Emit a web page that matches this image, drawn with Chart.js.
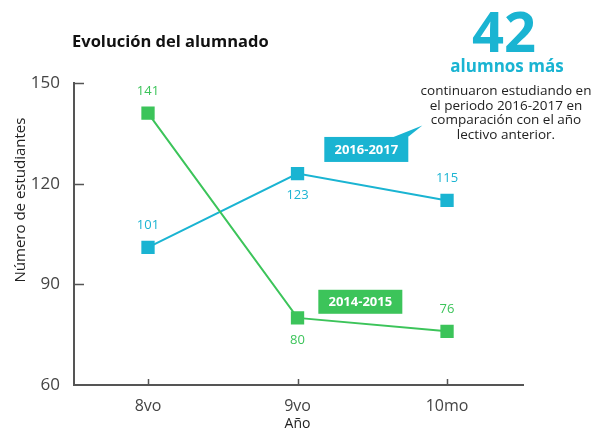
<!DOCTYPE html>
<html>
<head>
<meta charset="utf-8">
<script src="https://cdn.jsdelivr.net/npm/chart.js@4"></script>
<style>
  html, body { margin: 0; padding: 0; background: #fff; }
  #wrap { width: 607px; height: 432px; }
</style>
</head>
<body>
<div id="wrap"><canvas id="chart" width="607" height="432"></canvas></div>
<script>
// data
const grades = ['8vo', '9vo', '10mo'];
const period2014 = [141, 80, 76];
const period2016 = [101, 123, 115];
const yTicks = [60, 90, 120, 150];

const CYAN = '#1ab4d2';
const GREEN = '#3cc45a';
const AXIS = '#555';
const FONT = '"Open Sans", "DejaVu Sans", sans-serif';

const toPoints = vals => vals.map((v, i) => ({ x: i, y: v }));

// ticks, value labels, callouts and side text
const decor = {
    id: 'decor',
    afterDatasetsDraw(chart) {
        const ctx = chart.ctx;
        const xs = chart.scales.x, ys = chart.scales.y;
        const area = chart.chartArea;
        ctx.save();

        // tick marks point into the plot
        ctx.strokeStyle = AXIS;
        ctx.lineWidth = 1.5;
        ctx.beginPath();
        yTicks.slice(1).forEach(v => {
            const y = Math.round(ys.getPixelForValue(v)) + 0.5;
            ctx.moveTo(area.left, y);
            ctx.lineTo(area.left + 10, y);
        });
        grades.forEach((g, i) => {
            const x = Math.round(xs.getPixelForValue(i)) + 0.5;
            ctx.moveTo(x, area.bottom);
            ctx.lineTo(x, area.bottom - 6);
        });
        ctx.stroke();

        // value labels next to each marker
        chart.data.datasets.forEach((ds, di) => {
            const meta = chart.getDatasetMeta(di);
            ctx.fillStyle = ds.borderColor;
            ctx.font = '13px ' + FONT;
            ctx.textAlign = 'center';
            ctx.textBaseline = 'middle';
            meta.data.forEach((pt, i) => {
                const dy = ds.labelPos[i] === 'below' ? 22 : -22;
                ctx.fillText(ds.data[i].y, pt.x, pt.y + dy);
            });
        });

        // callout boxes
        const box = (text, color, cx, cy, w, h) => {
            ctx.fillStyle = color;
            ctx.fillRect(cx - w / 2, cy - h / 2, w, h);
            ctx.fillStyle = '#fff';
            ctx.font = 'bold 13px ' + FONT;
            ctx.textAlign = 'center';
            ctx.textBaseline = 'middle';
            ctx.fillText(text, cx, cy + 1);
        };
        const bx = xs.getPixelForValue(1.46), by = ys.getPixelForValue(130.2);
        ctx.fillStyle = CYAN;
        ctx.beginPath();
        ctx.moveTo(bx + 26, by - 12);
        ctx.lineTo(bx + 56, by - 24);
        ctx.lineTo(bx + 41, by - 12);
        ctx.closePath();
        ctx.fill();
        box('2016-2017', CYAN, bx, by, 84, 25);
        box('2014-2015', GREEN, xs.getPixelForValue(1.42), ys.getPixelForValue(84.8), 84, 24);

        // axis titles
        ctx.fillStyle = '#222';
        ctx.font = '14px ' + FONT;
        ctx.textAlign = 'center';
        ctx.textBaseline = 'middle';
        ctx.fillText('Año', xs.getPixelForValue(1), 424);
        ctx.font = '15px ' + FONT;
        ctx.save();
        ctx.translate(21, 200);
        ctx.rotate(-Math.PI / 2);
        ctx.fillText('Número de estudiantes', 0, 0);
        ctx.restore();

        // title
        ctx.fillStyle = '#111';
        ctx.textAlign = 'left';
        ctx.textBaseline = 'alphabetic';
        ctx.font = 'bold 16.5px ' + FONT;
        ctx.fillText('Evolución del alumnado', 72, 47);

        // right hand note
        ctx.textAlign = 'center';
        ctx.fillStyle = CYAN;
        ctx.font = 'bold 56px ' + FONT;
        ctx.fillText('42', 504, 52);
        ctx.font = 'bold 17px ' + FONT;
        ctx.fillText('alumnos más', 507, 72);
        ctx.fillStyle = '#222';
        ctx.font = '13.5px ' + FONT;
        ['continuaron estudiando en', 'el periodo 2016-2017 en',
         'comparación con el año', 'lectivo anterior.'].forEach((l, i) => {
            ctx.fillText(l, 506, 95 + i * 14.5);
        });
        ctx.restore();
    }
};

new Chart(document.getElementById('chart'), {
    type: 'line',
    data: {
        datasets: [
            {
                label: '2014-2015',
                data: toPoints(period2014),
                labelPos: ['above', 'below', 'above'],
                borderColor: GREEN,
                backgroundColor: GREEN,
                borderWidth: 2,
                pointStyle: 'rect',
                pointRadius: 8,
                pointHoverRadius: 8,
                tension: 0
            },
            {
                label: '2016-2017',
                data: toPoints(period2016),
                labelPos: ['above', 'below', 'above'],
                borderColor: CYAN,
                backgroundColor: CYAN,
                borderWidth: 2,
                pointStyle: 'rect',
                pointRadius: 8,
                pointHoverRadius: 8,
                tension: 0
            }
        ]
    },
    options: {
        responsive: false,
        animation: false,
        layout: { padding: { left: 0, top: 83, right: 84, bottom: 0 } },
        plugins: {
            legend: { display: false },
            tooltip: { enabled: false }
        },
        scales: {
            x: {
                type: 'linear',
                min: -0.495,
                max: 2.508,
                afterBuildTicks: s => { s.ticks = grades.map((g, i) => ({ value: i })); },
                afterFit: s => { s.height = 47; },
                ticks: {
                    color: '#444',
                    font: { family: FONT, size: 16 },
                    padding: 4,
                    callback: v => grades[v]
                },
                grid: { display: false },
                border: { color: AXIS, width: 2 }
            },
            y: {
                min: 60,
                max: 150,
                afterBuildTicks: s => { s.ticks = yTicks.map(v => ({ value: v })); },
                afterFit: s => { s.width = 74; },
                ticks: {
                    color: '#444',
                    font: { family: FONT, size: 17 },
                    padding: 6
                },
                grid: { display: false },
                border: { color: AXIS, width: 2 }
            }
        }
    },
    plugins: [decor]
});
</script>
</body>
</html>
